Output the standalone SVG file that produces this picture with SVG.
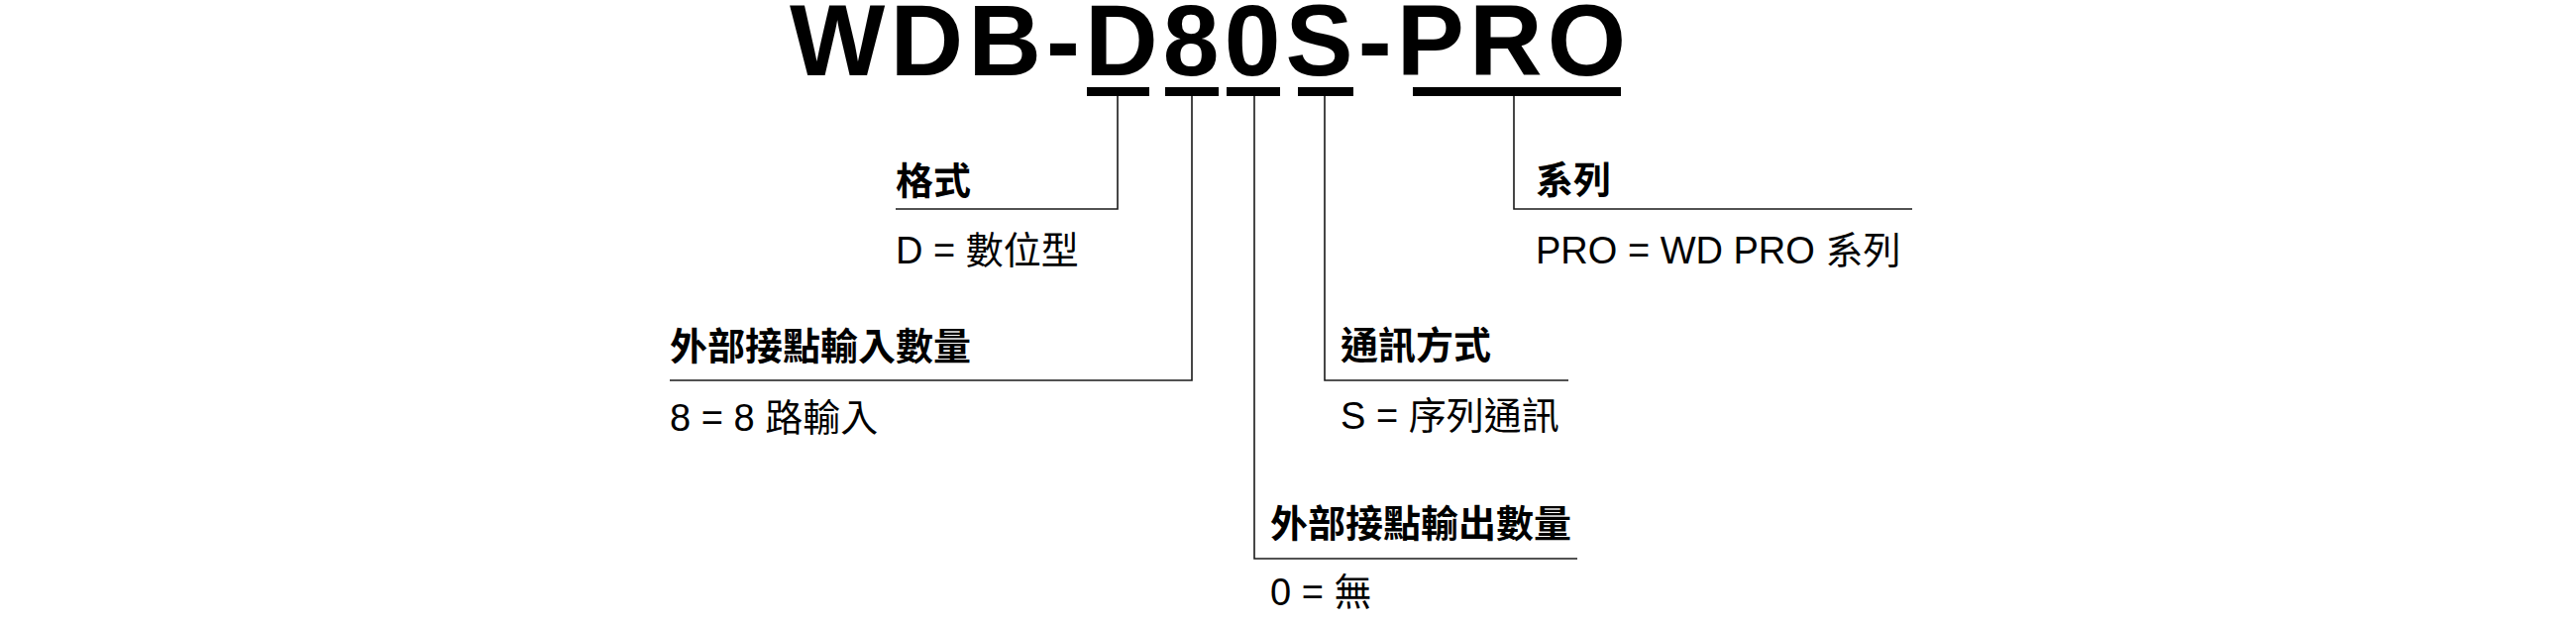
<svg xmlns="http://www.w3.org/2000/svg" width="2600" height="630" viewBox="0 0 2600 630">
<style>
.title{font-family:"Liberation Sans",Arial,sans-serif;font-weight:bold;font-size:102px;fill:#000}
.lbl{font-family:"Liberation Sans","Noto Sans CJK TC",sans-serif;font-weight:bold;font-size:38px;fill:#000}
.val{font-family:"Liberation Sans","Noto Sans CJK TC",sans-serif;font-size:38px;fill:#000}
.bar{fill:#000}
.ln{fill:none;stroke:#1a1a1a;stroke-width:1.6}
</style>
<rect width="2600" height="630" fill="#fff"/>
<g id="title">
<text class="title" x="797" y="76" textLength="844" lengthAdjust="spacing">WDB-D80S-PRO</text>
<rect class="bar" x="1097" y="88" width="63" height="9"/>
<rect class="bar" x="1176" y="88" width="54" height="9"/>
<rect class="bar" x="1238" y="88" width="54" height="9"/>
<rect class="bar" x="1310" y="88" width="56" height="9"/>
<rect class="bar" x="1426" y="88" width="210" height="9"/>
</g>
<g id="connectors">
<polyline class="ln" points="1128,97 1128,211 904,211"/>
<polyline class="ln" points="1203,97 1203,384 676,384"/>
<polyline class="ln" points="1266,97 1266,564 1592,564"/>
<polyline class="ln" points="1337,97 1337,384 1583,384"/>
<polyline class="ln" points="1528,97 1528,211 1930,211"/>
</g>
<g id="format">
<text class="lbl" x="904" y="196">格式</text>
<text class="val" x="904" y="266">D = 數位型</text>
</g>
<g id="inputs">
<text class="lbl" x="676" y="363">外部接點輸入數量</text>
<text class="val" x="676" y="435">8 = 8 路輸入</text>
</g>
<g id="outputs">
<text class="lbl" x="1282" y="542">外部接點輸出數量</text>
<text class="val" x="1282" y="611">0 = 無</text>
</g>
<g id="comm">
<text class="lbl" x="1353" y="362">通訊方式</text>
<text class="val" x="1353" y="433">S = 序列通訊</text>
</g>
<g id="series">
<text class="lbl" x="1550" y="195">系列</text>
<text class="val" x="1550" y="266">PRO = WD PRO 系列</text>
</g>
</svg>
